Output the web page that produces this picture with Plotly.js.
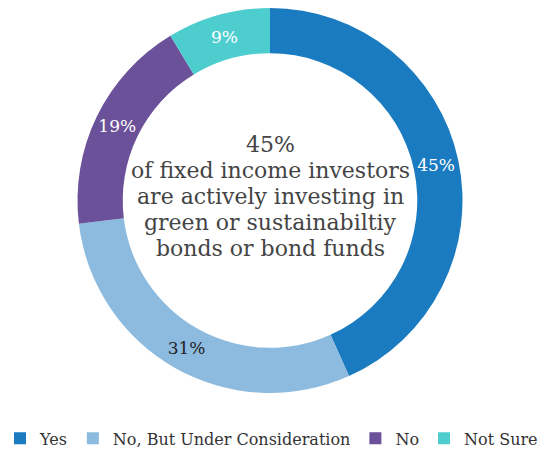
<!DOCTYPE html>
<html>
<head>
<meta charset="utf-8">
<script src="https://cdn.plot.ly/plotly-3.0.1.min.js"></script>
<style>html,body{margin:0;padding:0;background:#fff;}#chart{width:540px;height:451px;}</style>
</head>
<body>
<div id="chart"></div>
<script>
const categories = ["Yes", "No, But Under Consideration", "No", "Not Sure"];
const values = [45, 31, 19, 9];
const colors = ["#1b7bc0", "#8dbbdf", "#6b5199", "#4ecdcf"];
const labelColors = ["#ffffff", "#222222", "#ffffff", "#ffffff"];
const centerLines = ["45%", "of fixed income investors", "are actively investing in", "green or sustainabiltiy", "bonds or bond funds"];

const trace = {
  type: "pie",
  labels: categories,
  values: values,
  hole: 0.765,
  sort: false,
  direction: "clockwise",
  rotation: 0,
  marker: {colors: colors, line: {width: 0}},
  texttemplate: "%{value}%",
  textposition: "inside",
  insidetextorientation: "horizontal",
  insidetextfont: {family: "DejaVu Serif", size: 17, color: labelColors},
  hoverinfo: "label+value",
  domain: {x: [0, 1], y: [0, 1]}
};

const lineGap = 26;
const annotations = centerLines.map((t, i) => ({
  text: t, x: 0.5, y: 0.5, xref: "paper", yref: "paper",
  yshift: 4 - (i - (centerLines.length - 1) / 2) * lineGap,
  showarrow: false, font: {family: "DejaVu Serif", size: 22, color: "#444"}
}));

const layout = {
  width: 540,
  height: 451,
  margin: {l: 0, r: 0, t: 8, b: 58},
  font: {family: "DejaVu Serif", size: 16, color: "#333"},
  paper_bgcolor: "#fff",
  showlegend: true,
  legend: {orientation: "h", x: 0, xanchor: "left", xref: "container", yref: "container", y: 0.028, yanchor: "middle", font: {size: 16, color: "#333"}},
  annotations: annotations
};

Plotly.newPlot("chart", [trace], layout, {displayModeBar: false});
</script>
</body>
</html>
